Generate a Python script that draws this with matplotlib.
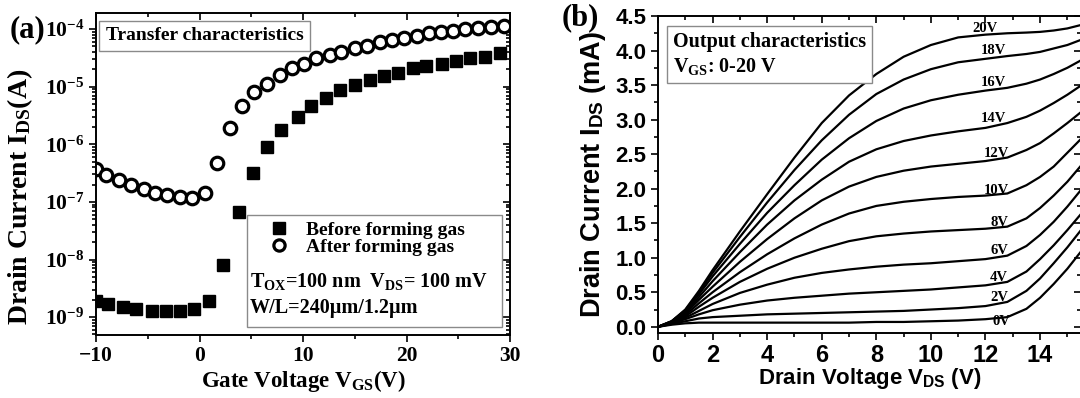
import matplotlib
matplotlib.use("Agg")
import numpy as np
import matplotlib.pyplot as plt
from matplotlib.ticker import FixedLocator, LogFormatterMathtext, NullFormatter
from matplotlib.patches import Rectangle

plt.rcParams.update({
    "font.family": "Liberation Serif",
    "font.weight": "bold",
    "axes.labelweight": "bold",
    "mathtext.fontset": "custom",
    "mathtext.rm": "Liberation Serif:bold",
    "mathtext.it": "Liberation Serif:italic:bold",
    "mathtext.bf": "Liberation Serif:bold",
    "mathtext.sf": "Liberation Sans:bold",
    "axes.linewidth": 1.4,
})

# ---------------- (a) transfer characteristics ----------------
vgs_before = [-10.0, -8.8, -7.4, -6.1, -4.6, -3.2, -1.9, -0.5, 0.9, 2.3, 3.8,
              5.2, 6.5, 7.9, 9.5, 10.8, 12.2, 13.6, 15.0, 16.5, 17.8, 19.2,
              20.6, 21.9, 23.4, 24.8, 26.1, 27.6, 29.0]
ids_before = [1.9e-9, 1.7e-9, 1.5e-9, 1.4e-9, 1.3e-9, 1.3e-9, 1.3e-9, 1.4e-9,
              1.9e-9, 7.9e-9, 6.6e-8, 3.2e-7, 9.0e-7, 1.8e-6, 3.0e-6, 4.6e-6,
              6.4e-6, 8.7e-6, 1.07e-5, 1.33e-5, 1.52e-5, 1.74e-5, 2.08e-5,
              2.27e-5, 2.5e-5, 2.8e-5, 3.1e-5, 3.3e-5, 3.8e-5]

vgs_after = [-10.0, -9.0, -7.8, -6.6, -5.4, -4.3, -3.1, -1.9, -0.7, 0.5, 1.7,
             2.9, 4.1, 5.3, 6.5, 7.8, 8.9, 10.1, 11.3, 12.6, 13.7, 15.0, 16.2,
             17.4, 18.6, 19.8, 21.0, 22.2, 23.3, 24.5, 25.7, 26.9, 28.2, 29.4]
ids_after = [3.8e-7, 2.9e-7, 2.4e-7, 2.0e-7, 1.65e-7, 1.45e-7, 1.3e-7, 1.2e-7,
             1.18e-7, 1.4e-7, 4.8e-7, 1.9e-6, 4.6e-6, 8.1e-6, 1.1e-5, 1.58e-5,
             2.1e-5, 2.5e-5, 3.1e-5, 3.5e-5, 4.0e-5, 4.6e-5, 5.1e-5, 5.9e-5,
             6.4e-5, 7.1e-5, 7.6e-5, 8.4e-5, 9.0e-5, 9.2e-5, 9.9e-5, 1.03e-4,
             1.1e-4, 1.13e-4]

vgs_ticks = [-10, 0, 10, 20, 30]
ids_ticks = [1e-9, 1e-8, 1e-7, 1e-6, 1e-5, 1e-4]

# ---------------- (b) output characteristics ----------------
vds = [0, 0.5, 1.0, 1.5, 2, 3, 4, 5, 6, 7, 8, 9, 10, 11, 12, 12.8, 13.5, 14, 14.5, 15, 15.6]
vgs_steps = [0, 2, 4, 6, 8, 10, 12, 14, 16, 18, 20]
ids_out = {
    0:  [0, 0.03, 0.05, 0.06, 0.06, 0.06, 0.06, 0.06, 0.06, 0.06, 0.07, 0.07, 0.08, 0.09, 0.11, 0.14, 0.26, 0.42, 0.62, 0.84, 1.14],
    2:  [0, 0.04, 0.08, 0.12, 0.14, 0.16, 0.18, 0.19, 0.20, 0.21, 0.22, 0.23, 0.25, 0.27, 0.30, 0.36, 0.52, 0.70, 0.92, 1.15, 1.45],
    4:  [0, 0.05, 0.11, 0.18, 0.24, 0.32, 0.38, 0.42, 0.45, 0.48, 0.50, 0.52, 0.54, 0.57, 0.60, 0.65, 0.80, 0.98, 1.18, 1.40, 1.68],
    6:  [0, 0.05, 0.13, 0.23, 0.33, 0.49, 0.61, 0.71, 0.78, 0.83, 0.87, 0.90, 0.92, 0.95, 0.98, 1.03, 1.17, 1.33, 1.52, 1.74, 2.03],
    8:  [0, 0.06, 0.15, 0.29, 0.42, 0.65, 0.84, 1.00, 1.13, 1.24, 1.31, 1.35, 1.38, 1.40, 1.42, 1.45, 1.57, 1.72, 1.90, 2.10, 2.38],
    10: [0, 0.06, 0.17, 0.34, 0.50, 0.79, 1.05, 1.28, 1.48, 1.64, 1.75, 1.81, 1.85, 1.88, 1.90, 1.93, 2.05, 2.17, 2.32, 2.52, 2.76],
    12: [0, 0.07, 0.19, 0.39, 0.58, 0.94, 1.27, 1.57, 1.83, 2.03, 2.17, 2.26, 2.32, 2.36, 2.40, 2.45, 2.56, 2.66, 2.80, 2.95, 3.14],
    14: [0, 0.07, 0.21, 0.43, 0.66, 1.08, 1.48, 1.83, 2.13, 2.39, 2.57, 2.69, 2.77, 2.83, 2.88, 2.95, 3.04, 3.13, 3.24, 3.36, 3.52],
    16: [0, 0.08, 0.23, 0.47, 0.73, 1.20, 1.65, 2.05, 2.42, 2.73, 2.98, 3.16, 3.28, 3.36, 3.42, 3.46, 3.52, 3.58, 3.66, 3.75, 3.88],
    18: [0, 0.08, 0.24, 0.50, 0.78, 1.30, 1.80, 2.27, 2.70, 3.07, 3.37, 3.58, 3.73, 3.83, 3.88, 3.92, 3.95, 3.98, 4.03, 4.08, 4.17],
    20: [0, 0.08, 0.25, 0.52, 0.82, 1.38, 1.92, 2.45, 2.95, 3.35, 3.66, 3.91, 4.08, 4.19, 4.23, 4.25, 4.26, 4.27, 4.29, 4.32, 4.38],
}
curve_labels = ["0V", "2V", "4V", "6V", "8V", "10V", "12V", "14V", "16V", "18V", "20V"]
label_vds = [12.6, 12.5, 12.5, 12.5, 12.5, 12.4, 12.4, 12.3, 12.3, 12.3, 12.0]
label_ids = [0.07, 0.43, 0.72, 1.11, 1.51, 1.98, 2.51, 3.02, 3.53, 4.00, 4.32]

vds_ticks = [0, 2, 4, 6, 8, 10, 12, 14]
ids_out_ticks = [0.0, 0.5, 1.0, 1.5, 2.0, 2.5, 3.0, 3.5, 4.0, 4.5]

W, H = 1080, 398
fig = plt.figure(figsize=(W / 100, H / 100), dpi=100)


def px_axes(left, right, top, bottom):
    return fig.add_axes([left / W, (H - bottom) / H, (right - left) / W, (bottom - top) / H])


def style_ticks(ax, major_len=5, minor_len=3):
    ax.tick_params(which="both", top=True, right=True, width=1.2)
    ax.tick_params(which="major", length=major_len)
    ax.tick_params(which="minor", length=minor_len)
    ax.tick_params(axis="x", which="both", direction="out", pad=3)
    ax.tick_params(axis="y", which="both", direction="out")
    # top / right ticks point into the frame
    for t in ax.xaxis.get_major_ticks() + ax.xaxis.get_minor_ticks():
        t.tick2line.set_marker(3)
    for t in ax.yaxis.get_major_ticks() + ax.yaxis.get_minor_ticks():
        t.tick2line.set_marker(0)


# ---- panel (a)
axa = px_axes(96, 510, 13, 335)
axa.set_yscale("log")
axa.plot(vgs_before, ids_before, ls="none", marker="s", ms=9, color="black",
         label="Before forming gas")
axa.plot(vgs_after, ids_after, ls="none", marker="o", ms=9, mfc="white",
         mec="black", mew=2.3, label="After forming gas")
axa.set_xlim(-10, 30)
axa.set_ylim(4.9e-10, 1.9e-4)
axa.xaxis.set_major_locator(FixedLocator(vgs_ticks))
axa.xaxis.set_minor_locator(FixedLocator([-5, 5, 15, 25]))
axa.yaxis.set_major_locator(FixedLocator(ids_ticks))
minor_log = [m * d for d in [1e-10] + ids_ticks for m in range(2, 10)]
axa.yaxis.set_minor_locator(FixedLocator([v for v in minor_log if 4.9e-10 < v < 1.9e-4]))
axa.yaxis.set_major_formatter(LogFormatterMathtext())
axa.yaxis.set_minor_formatter(NullFormatter())
axa.tick_params(labelsize=15.5)
style_ticks(axa)
axa.set_xlabel(r"Gate Voltage V$_{\rm GS}$(V)", fontsize=16.5, labelpad=1)
axa.set_ylabel(r"Drain Current I$_{\rm DS}$(A)", fontsize=20)
axa.yaxis.set_label_coords(-0.148, 0.43)

axa.text(0.024, 0.955, "Transfer characteristics", transform=axa.transAxes,
         fontsize=14, va="top", ha="left",
         bbox=dict(boxstyle="square,pad=0.35", fc="white", ec="#8a8a8a", lw=1.0))

axa.add_patch(Rectangle((0.365, 0.025), 0.616, 0.348, transform=axa.transAxes,
                        fill=False, ec="#8a8a8a", lw=1.0, zorder=3))
axa.legend(loc="upper left", bbox_to_anchor=(0.418, 0.352), frameon=False,
           fontsize=14, borderpad=0, borderaxespad=0, handlelength=1.0,
           handletextpad=0.9, labelspacing=-0.05, markerscale=0.9)
axa.text(0.372, 0.167, r"T$_{\rm OX}$=100 nm  V$_{\rm DS}$= 100 mV",
         transform=axa.transAxes, fontsize=14.5, va="center", ha="left")
axa.text(0.372, 0.085, "W/L=240\u00b5m/1.2\u00b5m", transform=axa.transAxes,
         fontsize=14.5, va="center", ha="left")
fig.text(10 / W, 1 - 30 / H, "(a)", fontsize=22, va="center", ha="left")

# ---- panel (b)
axb = px_axes(658, 1081, 16, 333)
for v in vgs_steps:
    axb.plot(vds, ids_out[v], color="black", lw=1.6, solid_joinstyle="round")
for name, x, y in zip(curve_labels, label_vds, label_ids):
    axb.text(x, y, name, fontsize=10.5, ha="center", va="center")
axb.set_xlim(0, 15.5)
axb.set_ylim(-0.09, 4.5)
axb.xaxis.set_major_locator(FixedLocator(vds_ticks))
axb.xaxis.set_minor_locator(FixedLocator([1, 3, 5, 7, 9, 11, 13, 15]))
axb.yaxis.set_major_locator(FixedLocator(ids_out_ticks))
axb.yaxis.set_minor_locator(FixedLocator([0.25 + 0.5 * k for k in range(9)]))
axb.set_xticklabels([str(t) for t in vds_ticks])
axb.set_yticklabels([f"{t:.1f}" for t in ids_out_ticks])
axb.tick_params(axis="x", labelsize=17, labelfontfamily="Liberation Sans")
axb.tick_params(axis="y", labelsize=16, labelfontfamily="Liberation Sans")
style_ticks(axb)
for lbl in axb.get_xticklabels() + axb.get_yticklabels():
    lbl.set_fontweight("bold")
axb.set_xlabel(r"Drain Voltage V$_{\mathsf{DS}}$ (V)", fontsize=16,
               family="Liberation Sans", labelpad=-1)
axb.set_ylabel(r"Drain Current I$_{\mathsf{DS}}$ (mA)", fontsize=19.5,
               family="Liberation Sans", labelpad=5)
axb.text(0.035, 0.95, "Output characteristics\n" + r"V$_{\rm GS}$: 0-20 V",
         transform=axb.transAxes, fontsize=14.5, va="top", ha="left",
         linespacing=1.25,
         bbox=dict(boxstyle="square,pad=0.3", fc="white", ec="#8a8a8a", lw=1.0))
fig.text(562 / W, 1 - 18 / H, "(b)", fontsize=22, va="center", ha="left")

fig.savefig("out.png", dpi=100)
